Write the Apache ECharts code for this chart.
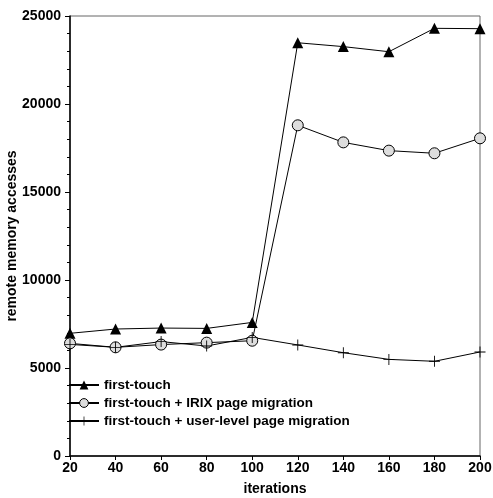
<!DOCTYPE html>
<html>
<head>
<meta charset="utf-8">
<script src="https://cdn.jsdelivr.net/npm/echarts@6/dist/echarts.min.js"></script>
<style>
html, body { margin: 0; padding: 0; background: #fff; }
#chart { width: 493px; height: 498px; }
</style>
</head>
<body>
<div id="chart"></div>
<script>
// data
var iterations = [20, 40, 60, 80, 100, 120, 140, 160, 180, 200];
var firstTouch = [6970, 7215, 7270, 7250, 7590, 23480, 23260, 22970, 24300, 24280];
var irixMigration = [6400, 6175, 6330, 6440, 6550, 18790, 17820, 17350, 17200, 18050];
var userMigration = [6340, 6175, 6500, 6250, 6740, 6310, 5870, 5490, 5380, 5910];

var names = ["first-touch", "first-touch + IRIX page migration", "first-touch + user-level page migration"];

function pairs(vals) {
    return iterations.map(function (x, i) { return [x, vals[i]]; });
}

var plusPath = "path://M4.6,0h0.8v4.6h4.6v0.8h-4.6v4.6h-0.8v-4.6h-4.6v-0.8h4.6z";
var font = "Liberation Sans";

var chart = echarts.init(document.getElementById("chart"));
var option = {
    animation: false,
    grid: {
        left: 70,
        right: 13,
        top: 16,
        bottom: 42,
        outerBoundsMode: "none",
        containLabel: false,
        show: true,
        borderColor: "#666",
        borderWidth: 1
    },
    legend: {
        orient: "vertical",
        left: 63,
        top: 373,
        itemWidth: 30,
        itemHeight: 11,
        itemGap: 4,
        data: [
            { name: names[0], itemStyle: { color: "#000" } },
            { name: names[1], itemStyle: { color: "#ddd", borderColor: "#000", borderWidth: 1 } },
            { name: names[2], itemStyle: { color: "#000" } }
        ],
        textStyle: { fontFamily: font, fontWeight: "bold", fontSize: 13.5, color: "#000" }
    },
    xAxis: {
        type: "value",
        min: 20,
        max: 200,
        interval: 20,
        name: "iterations",
        nameLocation: "middle",
        nameMoveOverlap: false,
        nameGap: 26,
        nameTextStyle: { fontFamily: font, fontWeight: "bold", fontSize: 14, color: "#000" },
        axisLine: { lineStyle: { color: "#000", width: 1.5 } },
        axisTick: { show: true, length: 4, lineStyle: { color: "#000" } },
        axisLabel: { fontFamily: font, fontWeight: "bold", fontSize: 14, color: "#000", margin: 5 },
        splitLine: { show: false }
    },
    yAxis: {
        type: "value",
        min: 0,
        max: 25000,
        interval: 5000,
        name: "remote memory accesses",
        nameLocation: "middle",
        nameMoveOverlap: false,
        nameGap: 51,
        nameTextStyle: { fontFamily: font, fontWeight: "bold", fontSize: 14, color: "#000" },
        axisLine: { show: true, lineStyle: { color: "#000", width: 1.5 } },
        axisTick: { show: true, length: 5, lineStyle: { color: "#000" } },
        minorTick: { show: true, splitNumber: 5, length: 3, lineStyle: { color: "#000" } },
        axisLabel: {
            fontFamily: font, fontWeight: "bold", fontSize: 14, color: "#000", margin: 9,
            formatter: function (v) { return String(v); }
        },
        splitLine: { show: false }
    },
    series: [
        {
            name: names[0],
            type: "line",
            data: pairs(firstTouch),
            symbol: "triangle",
            symbolSize: 11,
            itemStyle: { color: "#000" },
            lineStyle: { color: "#000", width: 1 }
        },
        {
            name: names[1],
            type: "line",
            data: pairs(irixMigration),
            symbol: "circle",
            symbolSize: 11,
            itemStyle: { color: "#ddd", borderColor: "#000", borderWidth: 1 },
            lineStyle: { color: "#000", width: 1 }
        },
        {
            name: names[2],
            type: "line",
            data: pairs(userMigration),
            symbol: plusPath,
            symbolSize: 11,
            itemStyle: { color: "#000" },
            lineStyle: { color: "#000", width: 1 }
        }
    ]
};
chart.setOption(option);
</script>
</body>
</html>
